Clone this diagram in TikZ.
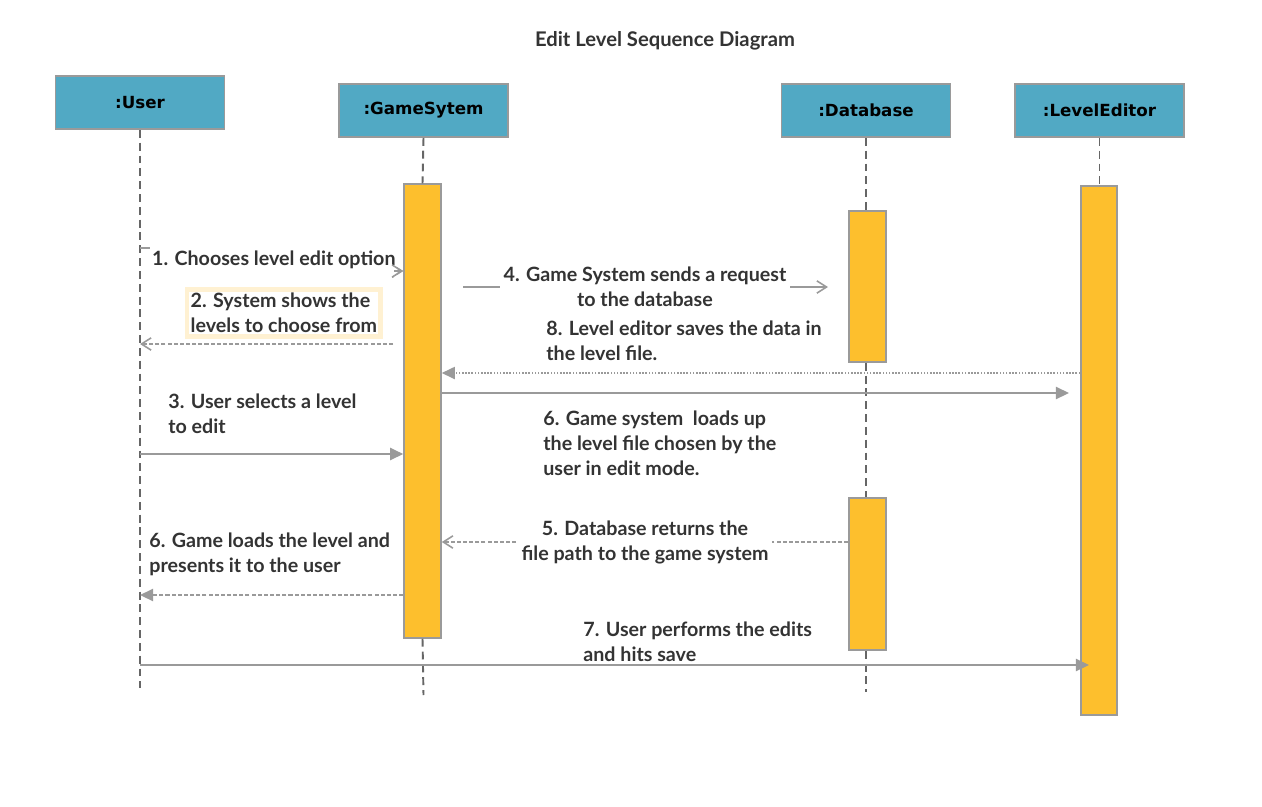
\documentclass[tikz,border=0pt]{standalone}
\usepackage{fontspec}
\setmainfont{Lato}
\newfontfamily\headfont{DejaVu Sans}
\usetikzlibrary{arrows.meta}
\definecolor{headblue}{HTML}{51A9C4}
\definecolor{barorange}{HTML}{FDBF2D}
\definecolor{edgegray}{HTML}{9A9A9A}
\definecolor{lifegray}{HTML}{666666}
\definecolor{textgray}{HTML}{333333}
\definecolor{notebox}{HTML}{FFF1D2}
\tikzset{
  head/.style = {draw=edgegray, fill=headblue, line width=1pt, minimum width=3.38cm, minimum height=1.06cm, font=\headfont\bfseries\fontsize{9.5}{11}\selectfont},
  bar/.style = {draw=edgegray, fill=barorange, line width=0.9pt, minimum width=0.74cm, inner sep=0pt},
  life/.style = {lifegray, line width=1.1pt, dash pattern=on 4.5pt off 2.8pt},
  msg/.style = {edgegray, line width=0.9pt},
  opentip/.style = {-{Straight Barb[length=5.5pt,width=7pt]}},
  filltip/.style = {-{Triangle[length=7.5pt,width=7pt]}},
  lbl/.style = {text=textgray, font=\bfseries\fontsize{11.2}{14.2}\selectfont, align=left, inner sep=0pt, anchor=west}
}
\begin{document}
\begin{tikzpicture}[x=0.02cm, y=-0.02cm]
  \useasboundingbox (0,0) rectangle (1262,806);
  \node [text=textgray, font=\bfseries\fontsize{11.5}{13}\selectfont] (title) at (665,41) {Edit Level Sequence Diagram};

  \node [head] (user) at (140,102.5) {:User};
  \node [head] (game) at (423.5,110.5) {:GameSytem};
  \node [head] (db) at (866,110.5) {:Database};
  \node [head] (editor) at (1099.5,110.5) {:LevelEditor};

  \node [bar, minimum height=9.08cm] (gbar) at (422.5,411) {};
  \node [bar, minimum height=3.02cm] (dbar1) at (867.5,286.5) {};
  \node [bar, minimum height=3.04cm] (dbar2) at (867.5,574) {};

  \draw [life] (user.south) -- (user.south |- 0,688);
  \draw [life] (game.south) -- (gbar.north);
  \draw [life] (gbar.south) -- (game.south |- 0,695);
  \draw [life] (db.south) -- (db.south |- dbar1.north);
  \draw [life] (db.south |- dbar1.south) -- (db.south |- dbar2.north);
  \draw [life] (db.south |- dbar2.south) -- (db.south |- 0,692);
  \draw [life] (editor.south) -- (editor.south |- 0,186);
  \node [bar, minimum width=0.72cm, minimum height=10.58cm] (ebar) at (1099,450.5) {};

  \draw [msg, opentip] (user.south |- 0,248) -- ++(10,0) -- (370,271) -- (gbar.west |- 0,271);
  \node [lbl, fill=white, inner xsep=1pt, inner ysep=4.5pt] (m1) at (150,260) {1. Chooses level edit option};
  \draw [msg, opentip] (394,271) -- (gbar.west |- 0,271);

  \node [lbl, draw=notebox, line width=2.5pt, fill=white, inner sep=2pt] (m2) at (185,313) {2. System shows the\\levels to choose from};
  \draw [msg, opentip, dash pattern=on 2.3pt off 1.2pt] (393,344) -- (user.south |- 0,344);

  \node [lbl] (m3) at (168,413.5) {3. User selects a level\\to edit};
  \draw [msg, filltip] (user.south |- 0,454) -- (gbar.west |- 0,454);

  \draw [msg, opentip] (463,287) -- (828,287);
  \node [lbl, anchor=center, align=center, fill=white, inner sep=2pt] (m4) at (645,286.5) {4. Game System sends a request\\to the database};

  \node [lbl] (m8) at (546,340.5) {8. Level editor saves the data in\\the level file.};
  \draw [msg, filltip, line width=0.8pt, dash pattern=on 0.9pt off 0.9pt] (ebar.west |- 0,373) -- (gbar.east |- 0,373);

  \draw [msg, filltip] (gbar.east |- 0,393) -- (1069,393);
  \node [lbl] (m6) at (543,443) {6. Game system\ \ loads up\\the level file chosen by the\\user in edit mode.};

  \draw [msg, opentip, dash pattern=on 2.3pt off 1.2pt] (dbar2.west |- 0,542) -- (gbar.east |- 0,542);
  \node [lbl, anchor=center, align=center, fill=white, inner sep=2pt] (m5) at (645,542) {5. Database returns the\\file path to the game system};

  \node [lbl] (m6b) at (149,554.5) {6. Game loads the level and\\presents it to the user};
  \draw [msg, filltip, dash pattern=on 2.3pt off 1.2pt] (gbar.west |- 0,595) -- (user.south |- 0,595);

  \node [lbl] (m7) at (583,641.5) {7. User performs the edits\\and hits save};
  \draw [msg, filltip] (user.south |- 0,665) -- (1089,665);
\end{tikzpicture}
\end{document}
